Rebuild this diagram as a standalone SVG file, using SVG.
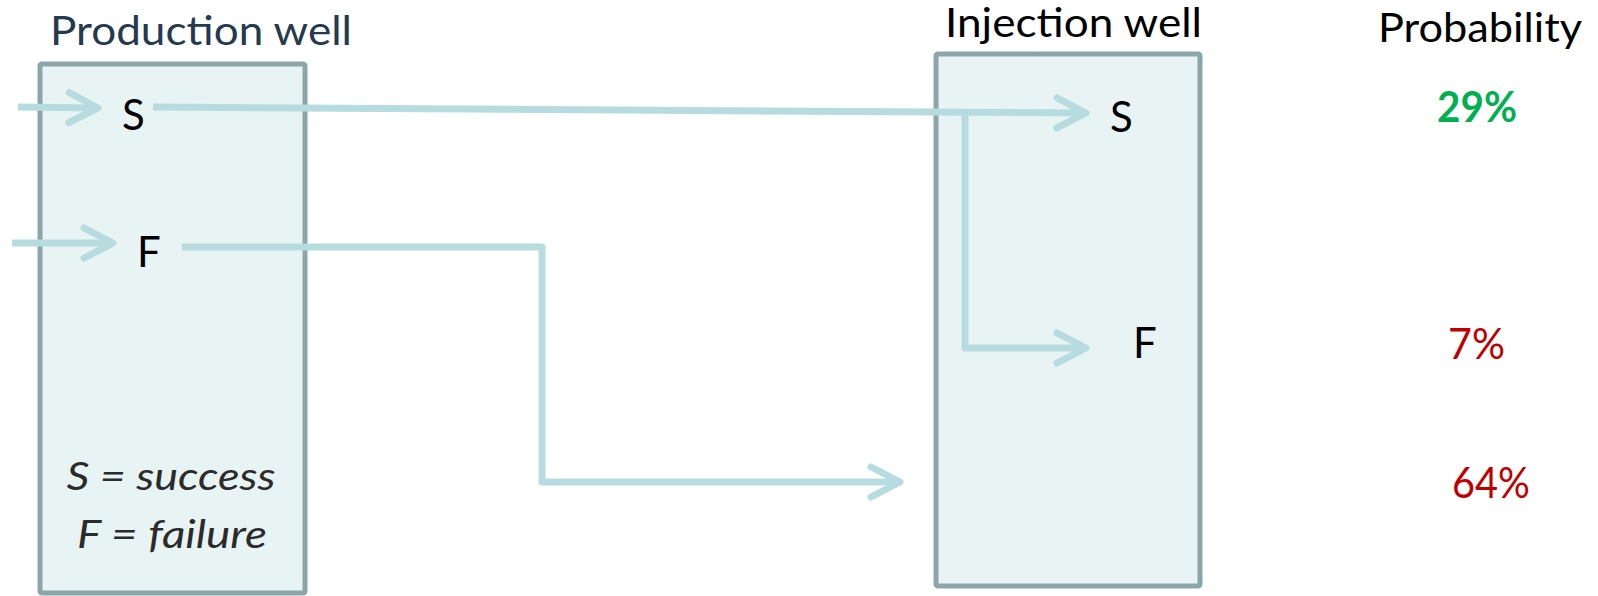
<svg xmlns="http://www.w3.org/2000/svg" width="1598" height="596" viewBox="0 0 1598 596">
  <defs>
    <style>
      .box { fill: #e8f4f4; stroke: #8ba5a8; stroke-width: 5; }
      .title { font-family: Lato, "Open Sans", "Liberation Sans", sans-serif; font-size: 40px; }
      .lbl { font-family: Lato, "Open Sans", "Liberation Sans", sans-serif; font-size: 42px; fill: #000; }
      .legend { font-family: Lato, "Open Sans", "Liberation Sans", sans-serif; font-size: 38px; font-style: italic; fill: #2b2b2b; }
      .pct { font-family: Lato, "Open Sans", "Liberation Sans", sans-serif; font-size: 42px; }
      .conn { fill: none; stroke: #b7dcdf; stroke-width: 7; stroke-linejoin: round; stroke-linecap: butt; }
    </style>
    <marker id="chev" markerUnits="userSpaceOnUse" viewBox="-36 -20 42 40" refX="0" refY="0" markerWidth="42" markerHeight="40" orient="auto">
      <path d="M-29,-15 L0,0 L-29,15" fill="none" stroke="#b7dcdf" stroke-width="7" stroke-linecap="round" stroke-linejoin="round"/>
    </marker>
  </defs>

  <g id="production-well">
    <rect class="box" x="40" y="64" width="265" height="529" rx="2"/>
    <text class="title" x="50" y="45" fill="#253a4f" textLength="302" lengthAdjust="spacingAndGlyphs">Production well</text>
    <text class="lbl" x="122" y="130">S</text>
    <text class="lbl" x="137" y="267">F</text>
    <text class="legend" x="171" y="490" text-anchor="middle" textLength="209" lengthAdjust="spacingAndGlyphs">S = success</text>
    <text class="legend" x="172" y="548" text-anchor="middle" textLength="190" lengthAdjust="spacingAndGlyphs">F = failure</text>
  </g>

  <g id="injection-well">
    <rect class="box" x="936" y="54" width="264" height="532" rx="2"/>
    <text class="title" x="945" y="37" fill="#000" textLength="257" lengthAdjust="spacingAndGlyphs">Injection well</text>
    <text class="lbl" x="1110" y="132">S</text>
    <text class="lbl" x="1133" y="358">F</text>
  </g>

  <g id="probability">
    <text class="title" x="1378" y="42" fill="#000" textLength="204" lengthAdjust="spacingAndGlyphs">Probability</text>
    <text class="pct" x="1437" y="122" fill="#00b050" font-weight="bold" textLength="80" lengthAdjust="spacingAndGlyphs">29%</text>
    <text class="pct" x="1448" y="359" fill="#c00000" textLength="57" lengthAdjust="spacingAndGlyphs">7%</text>
    <text class="pct" x="1452" y="498" fill="#c00000" textLength="78" lengthAdjust="spacingAndGlyphs">64%</text>
  </g>

  <g id="connectors">
    <line class="conn" x1="18" y1="107" x2="98" y2="108" marker-end="url(#chev)"/>
    <line class="conn" x1="12" y1="243" x2="113" y2="243" marker-end="url(#chev)"/>
    <line class="conn" x1="153" y1="107" x2="1086" y2="113" marker-end="url(#chev)"/>
    <path class="conn" d="M965,113 L965,348 L1086,348" marker-end="url(#chev)"/>
    <path class="conn" d="M182,247 L542,247 L542,482 L900,482" marker-end="url(#chev)"/>
  </g>
</svg>
